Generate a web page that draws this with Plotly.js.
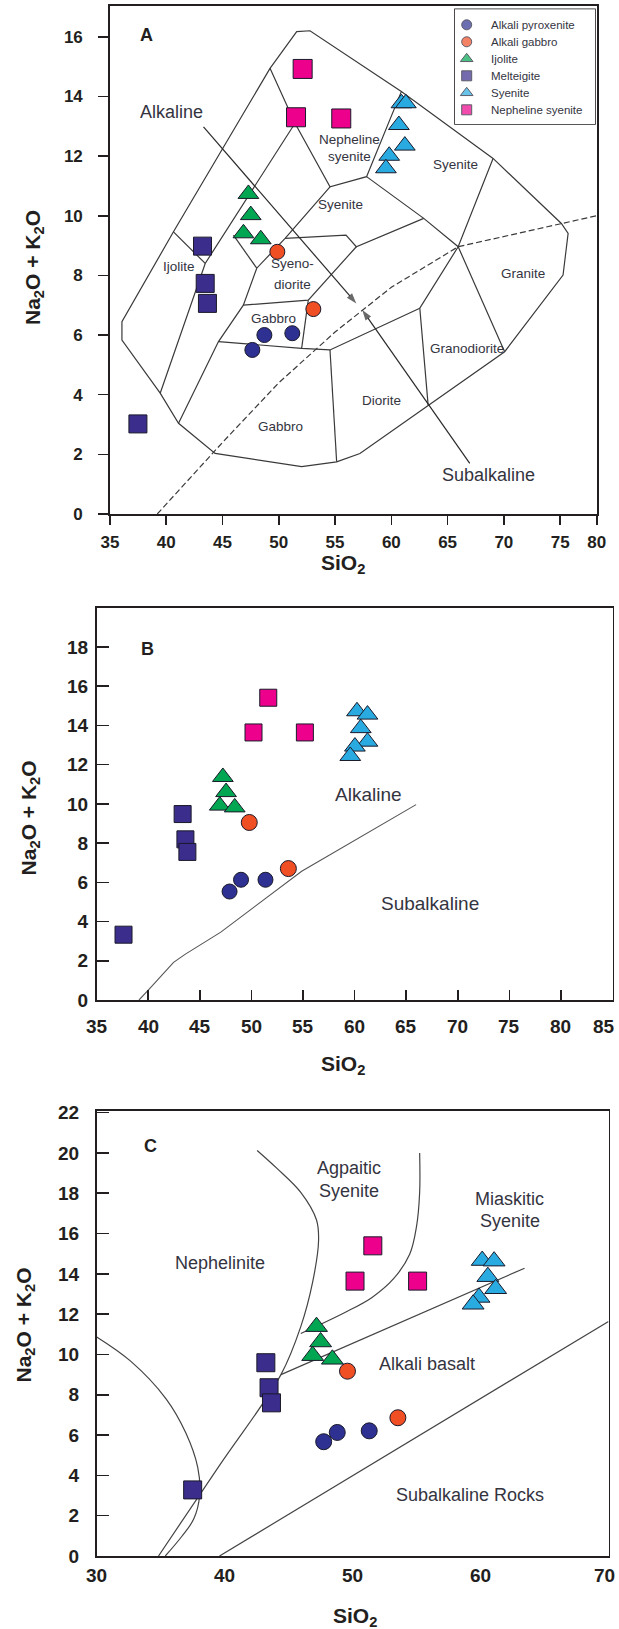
<!DOCTYPE html>
<html><head><meta charset="utf-8">
<script src="https://cdn.plot.ly/plotly-3.0.1.min.js"></script>
<style>html,body{margin:0;padding:0;background:#fff}</style>
</head><body><div id="chart" style="width:619px;height:1629px"></div>
<script>
// ---------------- DATA ----------------
const groups = ['Alkali pyroxenite','Alkali gabbro','Ijolite','Melteigite','Syenite','Nepheline syenite'];

// Panel A (SiO2, Na2O+K2O) per group
const panelA_SiO2 = [[48.72,51.2,47.65],[49.87,53.07],[47.3,47.51,46.86,48.4],[43.22,43.46,43.66,37.48],[60.9,61.29,60.67,61.2,59.81,59.52],[52.12,51.53,55.55]];
const panelA_alk  = [[6.0,6.06,5.5],[8.79,6.87],[10.73,10.02,9.41,9.21],[8.98,7.73,7.06,3.02],[13.77,13.77,13.04,12.35,12.01,11.59],[14.92,13.3,13.26]];
// Panel B
const panelB_SiO2 = [[47.88,48.99,51.36],[49.79,53.58],[47.23,47.54,46.93,48.38],[43.33,43.6,43.79,37.6],[60.23,61.25,60.6,61.25,60.03,59.58],[51.63,50.2,55.18]];
const panelB_alk  = [[5.53,6.13,6.13],[9.05,6.7],[11.37,10.6,9.91,9.82],[9.48,8.19,7.55,3.33],[14.72,14.55,13.86,13.17,12.92,12.44],[15.41,13.64,13.64]];
// Panel C
const panelC_SiO2 = [[47.74,48.8,51.3],[49.6,53.54],[47.18,47.5,46.88,48.42],[43.22,43.47,43.66,37.5],[60.13,61.06,60.57,61.18,59.88,59.42],[51.58,50.19,55.08]];
const panelC_alk  = [[5.67,6.13,6.21],[9.17,6.86],[11.38,10.62,9.94,9.76],[9.59,8.35,7.6,3.28],[14.66,14.63,13.86,13.26,12.83,12.49],[15.39,13.64,13.64]];

// Panel A field boundaries (SiO2, Na2O+K2O)
const outerBoundaryA = [[49.22,14.94],[51.59,16.17],[52.77,16.2],[60.89,14.16],[69.04,11.92],[75.11,9.74],[75.71,9.41],[75.26,8.01],[70.07,5.44],[63.27,3.65],[57.21,2.03],[55.14,1.75],[52.03,1.59],[44.34,2.03],[41.09,3.04],[39.46,4.05],[36.06,5.83],[36.06,6.45],[40.64,9.46],[49.22,14.94]];
const innerBoundariesA = [
  [[49.22,14.94],[51.44,13.1],[54.55,10.97],[57.8,11.31],[60.89,14.16]],
  [[57.8,11.31],[62.88,9.91],[65.94,8.96],[70.07,5.44]],
  [[69.04,11.92],[65.94,8.96],[62.53,6.9],[63.27,3.65]],
  [[62.88,9.91],[56.89,8.96],[55.97,9.35],[50.56,9.24]],
  [[54.55,10.97],[50.56,9.24],[48.04,8.24],[46.85,7.0],[44.64,5.78],[41.09,3.04]],
  [[56.89,8.96],[52.62,7.17],[46.85,7.0]],
  [[52.62,7.17],[52.03,5.55]],
  [[44.64,5.78],[52.03,5.55],[54.55,5.5],[62.53,6.9]],
  [[54.55,5.5],[55.14,1.75]],
  [[51.44,13.1],[43.46,8.4],[39.46,4.05]],
  [[40.64,9.46],[43.46,8.4]],
  [[45.97,9.35],[48.04,8.24]]
];
const dividerA = [[39.2,0],[45,2.4],[50,4.4],[55,6.1],[60,7.6],[65.94,8.96],[78.25,10.0]];
const fieldLabelsA = [
  ['Nepheline',56.3,12.54],['syenite',56.3,11.97],['Syenite',55.5,10.36],['Syenite',65.73,11.7],
  ['Ijolite',41.1,8.29],['Syeno-',51.2,8.4],['diorite',51.2,7.68],['Gabbro',49.52,6.56],
  ['Gabbro',50.11,2.93],['Diorite',59.13,3.82],['Granodiorite',66.68,5.55],['Granite',71.7,8.07]
];
const seriesLabelsA = [['Alkaline',40.5,13.49],['Subalkaline',68.6,1.31]];
const arrowsA = [[[43.31,12.98],[56.89,7.06]],[[66.97,1.7],[57.42,6.84]]];

// Panel B divider
const dividerB = [[39.1,0],[40,0.5],[42.45,1.92],[43.6,2.34],[47.03,3.46],[50.1,4.67],[50.87,5.01],[54.87,6.56],[65.96,9.96]];
const labelsB = [['Alkaline',61.37,10.5],['Subalkaline',67.3,4.92]];

// Panel C boundaries
const curveC1 = [[30,10.87],[32.63,9.68],[35.42,7.8],[36.97,6.1],[37.9,4.39],[38.05,3.03],[37.58,1.83],[36.66,0.98],[35.36,0]];
const curveC2 = [[34.83,0],[39.6,4.5],[44.4,9.0],[45.95,11.38],[46.88,13.6],[47.34,15.65],[47.18,16.67],[45.95,18.04],[44.09,19.23],[42.54,20.12]];
const curveC3 = [[45.95,11.04],[49.36,12.07],[51.52,12.83],[53.22,13.77],[54.46,14.97],[54.99,16.33],[55.24,18.04],[55.24,20.0]];
const lineC4 = [[44.4,9.0],[63.44,14.28]];
const lineC5 = [[39.6,0],[70,11.64]];
const labelsC = [['Agpaitic',49.7,19.23],['Syenite',49.7,18.12],['Miaskitic',62.3,17.73],['Syenite',62.3,16.62],
  ['Nephelinite',39.6,14.54],['Alkali basalt',55.8,9.51],['Subalkaline Rocks',59.2,3.03]];

// axis ticks
const ticksA_x = [35,40,45,50,55,60,65,70,75,78.25];
const tickTextA_x = ['35','40','45','50','55','60','65','70','75','80'];
const ticksA_y = [0,2,4,6,8,10,12,14,16];
const ticksB_x = [35,40,45,50,55,60,65,70,75,80,85];
const tickTextB_x = ['35','40','45','50','55','60','65','70','75','80','85'];
const ticksB_y = [0,2,4,6,8,10,12,14,16,18];
const ticksC_x = [30,40,50,60,69.65];
const tickTextC_x = ['30','40','50','60','70'];
const ticksC_y = [0,2,4,6,8,10,12,14,16,18,20,22];

// ---------------- STYLE ----------------
const FONT = 'Liberation Sans, Arial, Helvetica, sans-serif';
const INK = '#231f20';
const TXT = '#34343f';
const symbols = ['circle','circle','triangle-up','square','triangle-up','square'];
const colors = ['#2e3192','#f04e23','#00a651','#3a2d8c','#29abe2','#ec008c'];
const sizeA = [15,15,18,18,18,19];
const sizeB = [15,16,18,17,18,17];
const sizeC = [16,16,19,18,19,18];
const sizeLegend = [10,10,11,10,11,10];

function poly(lines, xa, ya, line, shape) {
  const xs = [], ys = [];
  lines.forEach(l => { l.forEach(p => { xs.push(p[0]); ys.push(p[1]); }); xs.push(null); ys.push(null); });
  return {type:'scatter', mode:'lines', x:xs, y:ys, xaxis:xa, yaxis:ya,
    line:Object.assign({shape: shape || 'linear'}, line), hoverinfo:'skip', showlegend:false};
}

const traces = [];
const thin = {color:'#3a3a3a', width:1.2};
traces.push(poly([outerBoundaryA], 'x', 'y', thin));
traces.push(poly(innerBoundariesA, 'x', 'y', thin));
traces.push(poly([dividerA], 'x', 'y', {color:'#3a3a3a', width:1.2, dash:'6px,3px'}));
arrowsA.forEach(a => traces.push({type:'scatter', mode:'lines+markers', x:a.map(p=>p[0]), y:a.map(p=>p[1]),
  xaxis:'x', yaxis:'y', showlegend:false, hoverinfo:'skip', line:{color:'#2a2a2a', width:1.2},
  marker:{symbol:'arrow', angleref:'previous', size:[0,11], color:'#2a2a2a', line:{width:0}}}));
traces.push(poly([dividerB], 'x2', 'y2', {color:'#555', width:1.1}));
traces.push(poly([curveC1], 'x3', 'y3', {color:'#444', width:1.2}, 'spline'));
traces.push(poly([curveC2], 'x3', 'y3', {color:'#444', width:1.2}, 'spline'));
traces.push(poly([curveC3], 'x3', 'y3', {color:'#444', width:1.2}, 'spline'));
traces.push(poly([lineC4, lineC5], 'x3', 'y3', {color:'#444', width:1.2}));

const panels = [
  {sx: panelA_SiO2, sy: panelA_alk, xa:'x', ya:'y', size:sizeA},
  {sx: panelB_SiO2, sy: panelB_alk, xa:'x2', ya:'y2', size:sizeB},
  {sx: panelC_SiO2, sy: panelC_alk, xa:'x3', ya:'y3', size:sizeC}
];
panels.forEach(p => {
  groups.forEach((g, i) => {
    traces.push({type:'scatter', mode:'markers', name:g, x:p.sx[i], y:p.sy[i], xaxis:p.xa, yaxis:p.ya,
      showlegend:false, hoverinfo:'skip',
      marker:{symbol:symbols[i], color:colors[i], size:p.size[i], line:{color:'#1a1a2a', width:1}}});
  });
});

// legend drawn on its own small axis (units: px from legend box top-left)
const annotations = [];
const legendRowY = groups.map((g, i) => 15.5 + i * 17);
traces.push({type:'scatter', mode:'markers', x:groups.map(() => 11.7), y:legendRowY, xaxis:'x4', yaxis:'y4',
  showlegend:false, hoverinfo:'skip',
  marker:{symbol:symbols, color:colors, size:sizeLegend, line:{color:'#1a1a2a', width:1}}});
groups.forEach((g, i) => annotations.push({text:g, x:34, y:legendRowY[i], xref:'x4', yref:'y4', showarrow:false,
  xanchor:'left', yanchor:'middle', font:{family:FONT, size:11.5, color:TXT}}));

function label(t, x, y, xr, yr, size) {
  annotations.push({text:t, x:x, y:y, xref:xr, yref:yr, showarrow:false,
    font:{family:FONT, size:size, color:TXT}, xanchor:'center', yanchor:'middle'});
}
fieldLabelsA.forEach(l => label(l[0], l[1], l[2], 'x', 'y', 13.5));
seriesLabelsA.forEach(l => label(l[0], l[1], l[2], 'x', 'y', 18));
labelsB.forEach(l => label(l[0], l[1], l[2], 'x2', 'y2', 19));
labelsC.forEach(l => label(l[0], l[1], l[2], 'x3', 'y3', 18));

// panel letters
const bold = (s, c) => ({family:FONT, size:s, color:c || INK, weight:'bold'});
annotations.push({text:'A', x:38.28, y:16.06, xref:'x', yref:'y', showarrow:false, font:bold(18)});
annotations.push({text:'B', x:39.97, y:17.9, xref:'x2', yref:'y2', showarrow:false, font:bold(18)});
annotations.push({text:'C', x:34.18, y:20.34, xref:'x3', yref:'y3', showarrow:false, font:bold(18)});

// panel B and C x tick labels placed on the axis scale, just below the frame
ticksB_x.forEach((v, i) => annotations.push({text:tickTextB_x[i], x:Math.min(v, 84.2), xref:'x2', y:1-1026/1629, yref:'paper',
  showarrow:false, xanchor:'center', yanchor:'middle', font:bold(19)}));
ticksC_x.forEach((v, i) => annotations.push({text:tickTextC_x[i], x:v, xref:'x3', y:1-1575/1629, yref:'paper',
  showarrow:false, xanchor:'center', yanchor:'middle', font:bold(19)}));

// axis titles (paper positions)
const yTitle = 'Na<sub>2</sub>O + K<sub>2</sub>O';
const xTitle = 'SiO<sub>2</sub>';
[[34/619, 1-268/1629],[29.6/619, 1-817.8/1629],[24/619, 1-1325.5/1629]].forEach(p =>
  annotations.push({text:yTitle, x:p[0], y:p[1], xref:'paper', yref:'paper', showarrow:false, textangle:-90,
    font:bold(21), xanchor:'center', yanchor:'middle'}));
[[343/619, 1-564/1629],[343/619, 1-1064.6/1629],[355/619, 1-1617/1629]].forEach(p =>
  annotations.push({text:xTitle, x:p[0], y:p[1], xref:'paper', yref:'paper', showarrow:false,
    font:bold(21), xanchor:'center', yanchor:'middle'}));

function axis(extra) {
  return Object.assign({showline:true, mirror:true, linecolor:INK, linewidth:1.8, showgrid:false, zeroline:false,
    tickcolor:INK, tickwidth:1.6, tickmode:'array', fixedrange:true, ticklabeloverflow:'allow'}, extra);
}

const layout = {
  width:619, height:1629, margin:{l:0, r:0, t:0, b:0},
  paper_bgcolor:'#fff', plot_bgcolor:'#fff',
  showlegend:false,
  xaxis: axis({domain:[110/619, 596.7/619], range:[35,78.25], anchor:'y', tickvals:ticksA_x, ticktext:tickTextA_x,
    ticks:'outside', ticklen:9, tickfont:bold(17), ticklabelstandoff:3}),
  yaxis: axis({domain:[1-514/1629, 1-6/1629], range:[0,17.03], anchor:'x', tickvals:ticksA_y,
    ticks:'outside', ticklen:10, tickfont:bold(17), ticklabelstandoff:12}),
  xaxis2: axis({domain:[96.7/619, 612.5/619], range:[35,85], anchor:'y2', tickvals:ticksB_x,
    ticks:'inside', ticklen:10, showticklabels:false}),
  yaxis2: axis({domain:[1-1000/1629, 1-607.7/1629], range:[0,20], anchor:'x2', tickvals:ticksB_y,
    ticks:'inside', ticklen:12, tickfont:bold(19), ticklabelstandoff:3}),
  xaxis3: axis({domain:[96.7/619, 608.5/619], range:[30,70], anchor:'y3', tickvals:ticksC_x,
    ticks:'', showticklabels:false}),
  yaxis3: axis({domain:[1-1556/1629, 1-1110.6/1629], range:[0,22.1], anchor:'x3', tickvals:ticksC_y,
    ticks:'inside', ticklen:12, tickfont:bold(19), ticklabelstandoff:12}),
  xaxis4: {domain:[455/619, 595/619], range:[0,140], anchor:'y4', visible:false, fixedrange:true},
  yaxis4: {domain:[1-124/1629, 1-9.3/1629], range:[114.7,0], anchor:'x4', visible:false, fixedrange:true},
  annotations: annotations,
  shapes: [
    {type:'rect', xref:'paper', yref:'paper', x0:455/619, x1:595/619, y0:1-124/1629, y1:1-9.3/1629,
      fillcolor:'#fff', line:{color:INK, width:1.6}, layer:'below'},
    {type:'rect', xref:'paper', yref:'paper', x0:457.7/619, x1:592.7/619, y0:1-121.7/1629, y1:1-11.7/1629,
      line:{color:INK, width:0.9}, layer:'below'}
  ]
};

Plotly.newPlot('chart', traces, layout, {displayModeBar:false, staticPlot:true});
</script></body></html>
